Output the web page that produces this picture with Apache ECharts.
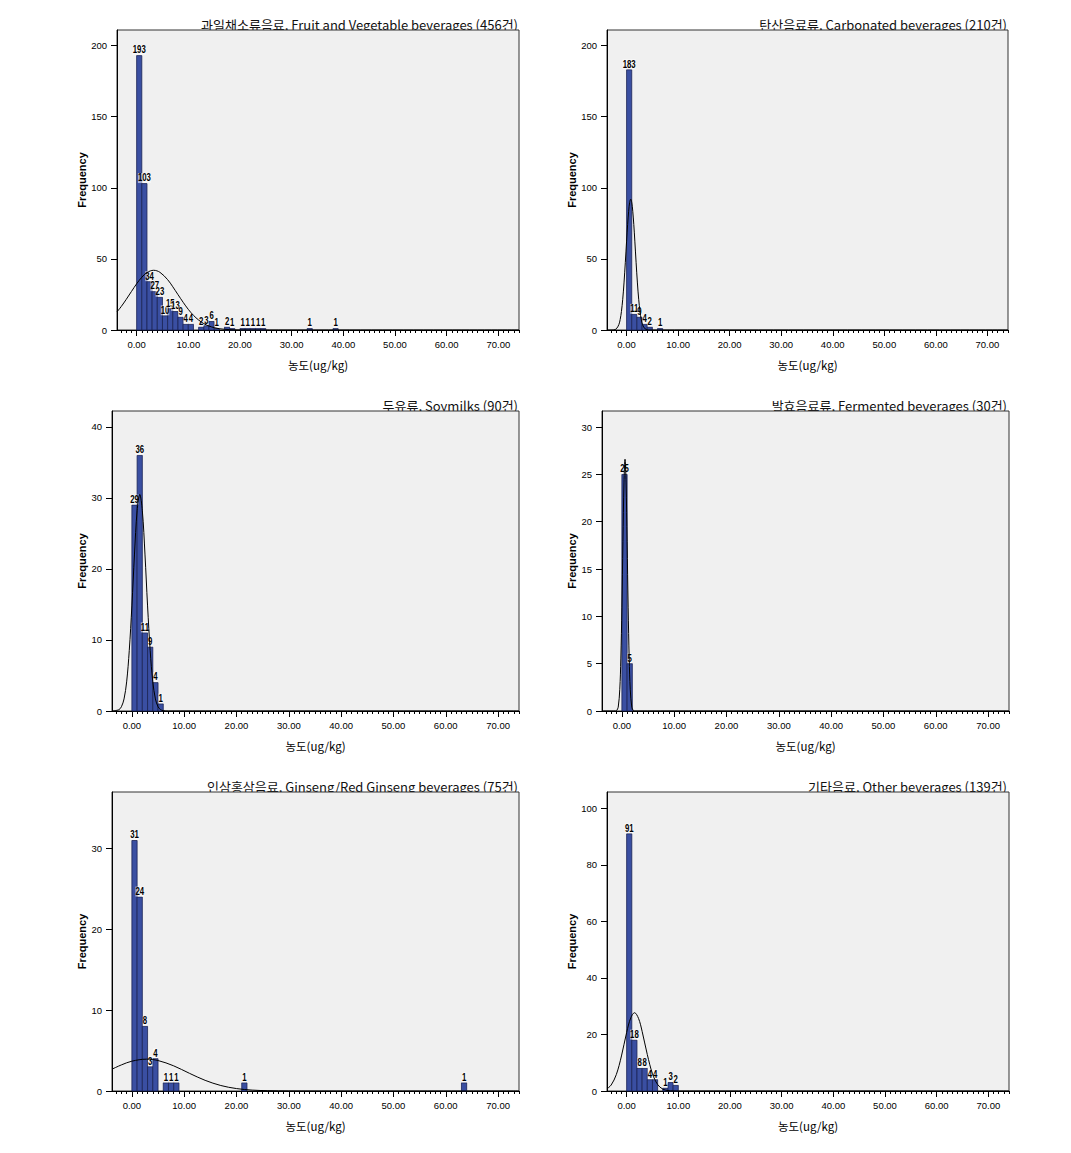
<!DOCTYPE html>
<html><head><meta charset="utf-8">
<script src="https://cdn.jsdelivr.net/npm/echarts@6/dist/echarts.min.js"></script>
<style>html,body{margin:0;padding:0;background:#fff}#c{width:1071px;height:1153px}</style>
</head><body><div id="c"></div>
<script>
// ---------------- DATA ----------------
const panelTitles = [
  '과일채소류음료, Fruit and Vegetable beverages (456건)',
  '탄산음료류, Carbonated beverages (210건)',
  '두유류, Soymilks (90건)',
  '발효음료류, Fermented beverages (30건)',
  '인삼홍삼음료, Ginseng/Red Ginseng beverages (75건)',
  '기타음료, Other beverages (139건)'
];
const xAxisName = '농도(ug/kg)';
const yAxisName = 'Frequency';
const binWidth = 1;

// histogram bins: lower edge of each non-empty bin and its frequency
const fruitBinStart = [0,1,2,3,4,5,6,7,8,9,10,12,13,14,15,17,18,20,21,22,23,24,33,38];
const fruitFreq     = [193,103,34,27,23,10,15,13,9,4,4,2,3,6,1,2,1,1,1,1,1,1,1,1];
const carbBinStart  = [0,1,2,3,4,6];
const carbFreq      = [183,11,9,4,2,1];
const soyBinStart   = [0,1,2,3,4,5];
const soyFreq       = [29,36,11,9,4,1];
const fermBinStart  = [0,1];
const fermFreq      = [25,5];
const ginsBinStart  = [0,1,2,3,4,6,7,8,21,63];
const ginsFreq      = [31,24,8,3,4,1,1,1,1,1];
const otherBinStart = [0,1,2,3,4,5,7,8,9];
const otherFreq     = [91,18,8,8,4,4,1,3,2];

// fitted normal curves
const fruitCurveX = [-3.8,-3,-2,-1,0,1,2,3.3,4.5,6,7,8,9,10,11,12,13,14,15,16,18,20,24,74];
const fruitCurveY = [12.8,16.4,21.6,27.1,32.5,37.1,40.4,42.0,40.6,35.4,30.4,24.9,19.5,14.5,10.3,7.0,4.5,2.8,1.65,0.9,0.25,0.06,0,0];
const carbCurveX  = [-3.8,-2.5,-2,-1.5,-1.25,-1,-0.75,-0.5,-0.25,0,0.2,0.4,0.6,0.8,1.0,1.2,1.4,1.6,1.85,2.1,2.35,2.6,2.85,3.1,3.6,4.5,74];
const carbCurveY  = [0,0.1,0.8,3.8,7.3,13.0,21.6,33.1,47.3,62.5,74.1,83.5,89.8,92,89.8,83.5,74.1,62.5,47.3,33.1,21.6,13.0,7.3,3.8,0.8,0,0];
const soyCurveX   = [-3.8,-2.5,-2,-1.5,-1,-0.5,0,0.5,1,1.5,2,2.5,3,3.5,4,4.5,5,5.5,6,7,74];
const soyCurveY   = [0,0.18,0.6,1.7,4.1,8.5,14.8,22.1,28.2,30.5,28.2,22.1,14.8,8.5,4.1,1.7,0.6,0.18,0.05,0,0];
const fermCurveX  = [-3.8,-1.2,-1,-0.7,-0.4,-0.2,0,0.2,0.4,0.6,0.8,1,1.2,1.4,1.6,1.9,2.2,2.5,74];
const fermCurveY  = [0,0,0.05,0.4,2.3,5.5,10.9,17.9,24.1,26.6,24.1,17.9,10.9,5.5,2.3,0.4,0.05,0,0];
const ginsCurveX  = [-3.8,-2,0,2.77,5,8,11,14,17,20,23,26,30,35,74];
const ginsCurveY  = [2.7,3.23,3.69,3.94,3.77,3.11,2.19,1.32,0.68,0.30,0.11,0.04,0.01,0,0];
const otherCurveX = [-3.8,-3,-2,-1,0,0.8,1.53,2.3,3,4,5,6,7,8,9,10,74];
const otherCurveY = [0.8,2.1,5.8,12.4,20.7,25.9,27.7,25.7,21.1,12.9,6.1,2.3,0.66,0.15,0.03,0,0];

// axis ticks
const xTickValues = [0,10,20,30,40,50,60,70];
const xTickLabels = ['0.00','10.00','20.00','30.00','40.00','50.00','60.00','70.00'];
const xMin = -3.8, xMax = 74;
const fruitYTicks = [0,50,100,150,200];
const carbYTicks  = [0,50,100,150,200];
const soyYTicks   = [0,10,20,30,40];
const fermYTicks  = [0,5,10,15,20,25,30];
const ginsYTicks  = [0,10,20,30];
const otherYTicks = [0,20,40,60,80,100];
const yMaxes = [211, 211, 42.25, 31.7, 37, 105.8];

// ---------------- LAYOUT ----------------
const panels = [
  {bins: fruitBinStart, freq: fruitFreq, cx: fruitCurveX, cy: fruitCurveY, yt: fruitYTicks, grid:{left:117, top:30, width:402, height:300}, tRight:553, gapY:28},
  {bins: carbBinStart,  freq: carbFreq,  cx: carbCurveX,  cy: carbCurveY,  yt: carbYTicks,  grid:{left:607, top:30, width:401, height:300}, tRight:64, gapY:28},
  {bins: soyBinStart,   freq: soyFreq,   cx: soyCurveX,   cy: soyCurveY,   yt: soyYTicks,   grid:{left:112, top:411, width:407, height:300}, tRight:553, gapY:23},
  {bins: fermBinStart,  freq: fermFreq,  cx: fermCurveX,  cy: fermCurveY,  yt: fermYTicks,  grid:{left:602, top:411, width:407, height:300}, tRight:64, gapY:23},
  {bins: ginsBinStart,  freq: ginsFreq,  cx: ginsCurveX,  cy: ginsCurveY,  yt: ginsYTicks,  grid:{left:112, top:792, width:407, height:299}, tRight:553, gapY:23},
  {bins: otherBinStart, freq: otherFreq, cx: otherCurveX, cy: otherCurveY, yt: otherYTicks, grid:{left:607, top:792, width:402, height:299}, tRight:64, gapY:28}
];

const minorTicks = [];
for (let v = -3; v <= 74; v++) minorTicks.push(v);

const FONT = '"Liberation Sans", Arial, sans-serif';
const KFONT = '"Noto Sans CJK KR", "Liberation Sans", sans-serif';
const BAR_FILL = '#3A4FA2';
const BAR_STROKE = '#1B2355';

function renderBar(params, api) {
  const x0 = api.value(0), x1 = api.value(1), y = api.value(2);
  const p0 = api.coord([x0, 0]);
  const p1 = api.coord([x1, y]);
  return {
    type: 'group',
    children: [
      {type:'rect', shape:{x:p0[0], y:p1[1], width:p1[0]-p0[0], height:p0[1]-p1[1]},
       style:{fill:BAR_FILL, stroke:BAR_STROKE, lineWidth:0.8}},
      {type:'text', x:(p0[0]+p1[0])/2, y:p1[1]-0.5, scaleX:0.78, z2:20,
       style:{text:String(y), x:0, y:0, align:'center', verticalAlign:'bottom',
              font:'bold 10px ' + FONT, fill:'#000',
              backgroundColor:'rgba(255,255,255,0.55)', padding:[0,0]}}
    ]
  };
}

const option = {
  animation: false,
  backgroundColor: '#ffffff',
  title: [], grid: [], xAxis: [], yAxis: [], series: []
};

panels.forEach((p, i) => {
  option.title.push({
    text: panelTitles[i], right: p.tRight, top: p.grid.top - 13, padding: 0, z: 0,
    textStyle: {fontSize: 13, fontWeight: 'normal', color: '#111', fontFamily: KFONT, lineHeight: 15}
  });
  option.grid.push(Object.assign({show: true, backgroundColor: '#F0F0F0', borderColor: '#333', borderWidth: 1, z: 1, containLabel: false}, p.grid));
  option.xAxis.push({
    type: 'value', gridIndex: i, min: xMin, max: xMax, position: 'bottom', z: 3,
    axisLine: {show: true, onZero: false, lineStyle: {color: '#000', width: 1}},
    axisTick: {show: true, customValues: xTickValues, length: 6, lineStyle: {color: '#000'}},
    axisLabel: {show: true, customValues: xTickValues, formatter: v => xTickLabels[xTickValues.indexOf(v)],
                fontSize: 9.5, color: '#000', margin: 9, fontFamily: FONT},
    splitLine: {show: false},
    name: xAxisName, nameLocation: 'middle', nameGap: 29,
    nameTextStyle: {fontSize: 11.5, color: '#000', fontFamily: KFONT}
  });
  option.xAxis.push({
    type: 'value', gridIndex: i, min: xMin, max: xMax, position: 'bottom', z: 3,
    axisLine: {show: false},
    axisTick: {show: true, customValues: minorTicks, length: 3, lineStyle: {color: '#000'}},
    axisLabel: {show: false}, splitLine: {show: false}
  });
  option.yAxis.push({
    type: 'value', gridIndex: i, min: 0, max: yMaxes[i], z: 3,
    axisLine: {show: true, onZero: false, lineStyle: {color: '#000', width: 1}},
    axisTick: {show: true, customValues: p.yt, length: 6, lineStyle: {color: '#000'}},
    axisLabel: {show: true, customValues: p.yt, fontSize: 9.5, color: '#000', margin: 10, fontFamily: FONT},
    splitLine: {show: false},
    name: yAxisName, nameLocation: 'middle', nameGap: p.gapY,
    nameTextStyle: {fontSize: 11, fontWeight: 'bold', color: '#000', fontFamily: FONT}
  });
  option.series.push({
    type: 'custom', xAxisIndex: 2 * i, yAxisIndex: i, z: 4,
    renderItem: renderBar,
    encode: {x: [0, 1], y: 2},
    data: p.bins.map((b, k) => [b, b + binWidth, p.freq[k]])
  });
  option.series.push({
    type: 'line', xAxisIndex: 2 * i, yAxisIndex: i, z: 5,
    smooth: 0.35, symbol: 'none', clip: true,
    lineStyle: {color: '#000', width: 1},
    data: p.cx.map((x, k) => [x, p.cy[k]])
  });
});

const chart = echarts.init(document.getElementById('c'), null, {renderer: 'svg', width: 1071, height: 1153});
chart.setOption(option);
</script>
</body></html>
